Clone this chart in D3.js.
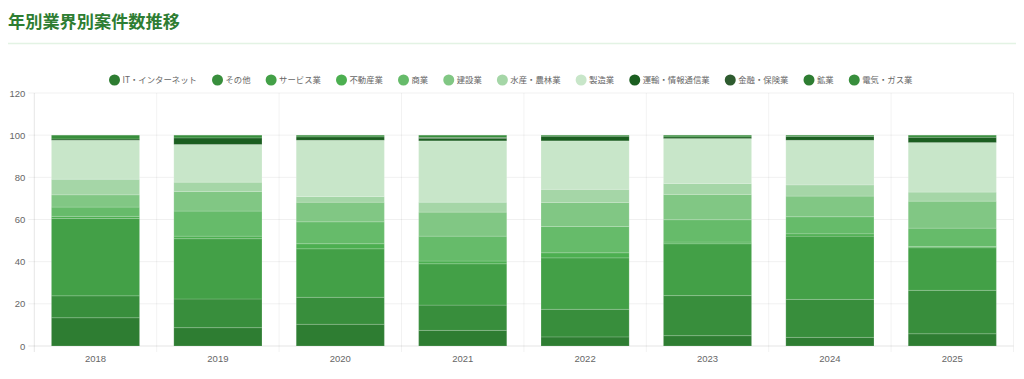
<!DOCTYPE html>
<html><head><meta charset="utf-8">
<script src="https://cdn.jsdelivr.net/npm/d3@7"></script>
<style>
html,body{margin:0;padding:0;background:#fff;}
svg{display:block;}
</style></head><body>
<svg id="chart" width="1024" height="379"></svg>
<script>
const years = ["2018","2019","2020","2021","2022","2023","2024","2025"];
const seriesNames = ["IT・インターネット","その他","サービス業","不動産業","商業","建設業","水産・農林業","製造業","運輸・情報通信業","金融・保険業","鉱業","電気・ガス業"];
const seriesColors = ["#2e7d32","#388e3c","#43a047","#4caf50","#66bb6a","#81c784","#a5d6a7","#c8e6c9","#1b5e20","#2e5b2f","#2e7d32","#388e3c"];
const itValues      = [13.4, 8.7, 10.3, 7.4, 4.3, 4.9, 4.1, 5.8];
const otherValues   = [10.4, 13.6, 12.8, 12.0, 13.1, 19.0, 18.0, 20.6];
const serviceValues = [36.7, 28.6, 23.0, 19.6, 24.4, 24.6, 30.0, 20.2];
const realEstateValues = [1.0, 1.2, 2.4, 1.3, 2.4, 0.8, 1.1, 0.6];
const commerceValues = [4.4, 11.9, 10.4, 11.8, 12.5, 10.6, 8.1, 8.7];
const constructionValues = [5.8, 9.3, 9.3, 11.4, 11.4, 12.0, 9.8, 12.8];
const agricultureValues = [7.4, 4.4, 2.7, 4.7, 6.2, 5.2, 5.3, 4.3];
const manufacturingValues = [18.5, 17.9, 26.7, 29.1, 23.0, 21.3, 21.2, 23.5];
const transportValues = [0.6, 3.1, 1.6, 1.2, 2.2, 0.8, 1.8, 2.5];
const financeValues = [0, 0, 0, 0.4, 0, 0, 0, 0];
const miningValues = [0, 0, 0, 0, 0, 0, 0, 0];
const utilityValues = [1.8, 1.3, 0.8, 1.1, 0.5, 0.8, 0.6, 1.0];
const yTicks = [0, 20, 40, 60, 80, 100, 120];
const chartTitle = "年別業界別案件数推移";

const allValues = [itValues, otherValues, serviceValues, realEstateValues, commerceValues, constructionValues, agricultureValues, manufacturingValues, transportValues, financeValues, miningValues, utilityValues];

const table = years.map((yr, i) => {
  const row = {year: yr};
  seriesNames.forEach((s, k) => row[s] = allValues[k][i]);
  return row;
});

(function draw() {
const svg = d3.select("#chart");
const font = "'Liberation Sans', Arial, 'Noto Sans CJK JP', sans-serif";
const cjkFont = "'Noto Sans CJK JP', 'Liberation Sans', sans-serif";

// Title
svg.append("text").attr("x", 8).attr("y", 28)
  .attr("font-family", cjkFont).attr("font-weight", "bold").attr("font-size", 17.2)
  .attr("fill", "#2e7d32").text(chartTitle);
svg.append("line").attr("x1", 8).attr("x2", 1016).attr("y1", 43.5).attr("y2", 43.5)
  .attr("stroke", "#e3f3e4").attr("stroke-width", 1.5);

// Scales
const pL = 34.3, pR = 1013.5, pT = 93, pB = 346;
const x = d3.scaleBand().domain(years).range([pL, pR]).paddingInner(0).paddingOuter(0);
const y = d3.scaleLinear().domain([0, 120]).range([pB, pT]);
const barW = x.bandwidth() * 0.72;

// Grid
const grid = svg.append("g");
yTicks.forEach(t => {
  grid.append("line").attr("x1", pL - 6).attr("x2", pR).attr("y1", y(t)).attr("y2", y(t))
    .attr("stroke", t === 0 ? "rgba(0,0,0,0.1)" : "rgba(0,0,0,0.06)").attr("stroke-width", 1);
});
const bounds = years.map(yr => x(yr)).concat([pR]);
bounds.forEach((bx, i) => {
  grid.append("line").attr("x1", bx).attr("x2", bx).attr("y1", pT).attr("y2", pB + 6)
    .attr("stroke", i === 0 ? "rgba(0,0,0,0.1)" : "rgba(0,0,0,0.05)").attr("stroke-width", 1);
});

// Axes labels via d3 axes
const yAxis = d3.axisLeft(y).tickValues(yTicks).tickSize(0).tickPadding(9);
const gy = svg.append("g").attr("transform", `translate(${pL},0)`).call(yAxis);
gy.select(".domain").remove();
gy.selectAll("text").attr("font-family", font).attr("font-size", 9.5).attr("fill", "#666");

const xAxis = d3.axisBottom(x).tickSize(0).tickPadding(9);
const gx = svg.append("g").attr("transform", `translate(0,${pB})`).call(xAxis);
gx.select(".domain").remove();
gx.selectAll("text").attr("font-family", font).attr("font-size", 9.5).attr("fill", "#666");

// Stacked bars
const stack = d3.stack().keys(seriesNames);
const layers = stack(table);
const bars = svg.append("g");
layers.forEach((layer, k) => {
  bars.append("g").selectAll("rect").data(layer).join("rect")
    .attr("x", d => x(d.data.year) + (x.bandwidth() - barW) / 2)
    .attr("width", barW)
    .attr("y", d => y(d[1]))
    .attr("height", d => Math.max(0, y(d[0]) - y(d[1])))
    .attr("fill", seriesColors[k])
    .attr("stroke", "rgba(255,255,255,0.15)")
    .attr("stroke-width", 1)
    .style("display", d => (d[1] - d[0]) > 0 ? null : "none");
});

// Legend
const legend = svg.append("g");
const items = [];
seriesNames.forEach((s, k) => {
  const g = legend.append("g");
  g.append("circle").attr("cx", 6).attr("cy", 0).attr("r", 5.5).attr("fill", seriesColors[k]);
  const t = g.append("text").attr("x", 14).attr("y", 3).attr("font-family", cjkFont)
    .attr("font-size", 8.4).attr("fill", "#666").text(s);
  const w = 14 + t.node().getComputedTextLength();
  items.push({g, w});
});
const gap = 14.5;
const total = d3.sum(items, d => d.w) + gap * (items.length - 1);
let pos = 510.5 - total / 2;
items.forEach(it => {
  it.g.attr("transform", `translate(${pos},80)`);
  pos += it.w + gap;
});
})();
</script>
</body></html>
